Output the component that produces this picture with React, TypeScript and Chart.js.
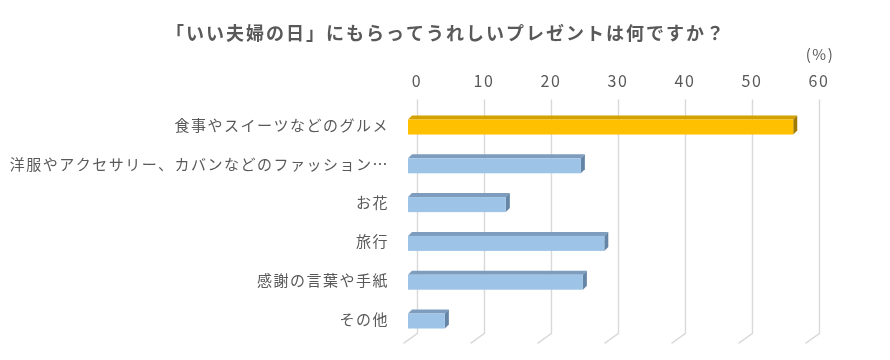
import React, { useEffect, useRef } from "react";
import { Chart, registerables } from "chart.js";

Chart.register(...registerables);

const TITLE = "「いい夫婦の日」にもらってうれしいプレゼントは何ですか？";
const UNIT_LABEL = "(%)";
const categories = [
  "食事やスイーツなどのグルメ",
  "洋服やアクセサリー、カバンなどのファッション…",
  "お花",
  "旅行",
  "感謝の言葉や手紙",
  "その他",
];
const values = [57.5, 25.8, 14.6, 29.3, 26.1, 5.5];
const highlighted = [true, false, false, false, false, false];
const xMin = 0;
const xMax = 60;
const xStep = 10;

const FONT = "'Noto Sans CJK JP', 'Noto Sans', sans-serif";
const TEXT = "#595959";
const GRID = "#d9d9d9";
const GOLD = { front: "#FFC000", top: "#D4A200", side: "#A07A00" };
const BLUE = { front: "#9DC3E6", top: "#7E9DBE", side: "#6585A6" };

const letterSpacingPlugin = {
  id: "letterSpacing",
  beforeDraw(chart: any) {
    chart.ctx.letterSpacing = "1.5px";
  },
};

const titlePlugin = {
  id: "centerTitle",
  afterDraw(chart: any) {
    const { ctx } = chart;
    ctx.save();
    ctx.letterSpacing = "2px";
    ctx.font = `bold 18px ${FONT}`;
    ctx.fillStyle = TEXT;
    ctx.textAlign = "center";
    ctx.textBaseline = "middle";
    ctx.fillText(TITLE, chart.width / 2 + 1, 33);
    ctx.restore();
  },
};

const wallGridPlugin = {
  id: "wallGrid",
  beforeDatasetsDraw(chart: any) {
    const { ctx, chartArea, scales } = chart;
    const xs = scales.x;
    ctx.save();
    ctx.strokeStyle = GRID;
    ctx.lineWidth = 1.4;
    xs.ticks.forEach((t: any) => {
      const px = Math.round(xs.getPixelForValue(t.value)) + 0.5;
      ctx.beginPath();
      ctx.moveTo(px, chartArea.top - 6);
      ctx.lineTo(px, chartArea.bottom - 5);
      ctx.lineTo(px - 14, chartArea.bottom + 5);
      ctx.stroke();
    });
    ctx.restore();
  },
};

const bars3dPlugin = {
  id: "bars3d",
  afterDatasetsDraw(chart: any) {
    const { ctx } = chart;
    const meta = chart.getDatasetMeta(0);
    const dx = -9;
    const d = 4;
    ctx.save();
    meta.data.forEach((el: any, i: number) => {
      const { x, y, base, height } = el.getProps(["x", "y", "base", "height"], true);
      const c = highlighted[i] ? GOLD : BLUE;
      const left = base + dx;
      const right = x + dx;
      const top = y - height / 2 + d;
      const bottom = y + height / 2;
      ctx.fillStyle = c.top;
      ctx.beginPath();
      ctx.moveTo(left, top);
      ctx.lineTo(left + d, top - d);
      ctx.lineTo(right + d, top - d);
      ctx.lineTo(right, top);
      ctx.closePath();
      ctx.fill();
      ctx.fillStyle = c.side;
      ctx.beginPath();
      ctx.moveTo(right, top);
      ctx.lineTo(right + d, top - d);
      ctx.lineTo(right + d, bottom - d);
      ctx.lineTo(right, bottom);
      ctx.closePath();
      ctx.fill();
      ctx.fillStyle = c.front;
      ctx.fillRect(left, top, right - left, bottom - top);
    });
    ctx.restore();
  },
};

const unitLabelPlugin = {
  id: "unitLabel",
  afterDraw(chart: any) {
    const { ctx, chartArea, scales } = chart;
    ctx.save();
    ctx.font = `15px ${FONT}`;
    ctx.fillStyle = TEXT;
    ctx.textAlign = "center";
    ctx.textBaseline = "middle";
    ctx.fillText(UNIT_LABEL, scales.x.getPixelForValue(xMax) + 1, chartArea.top - 51);
    ctx.restore();
  },
};

export default function App() {
  const ref = useRef<HTMLCanvasElement>(null);

  useEffect(() => {
    if (!ref.current) return;
    const chart = new Chart(ref.current, {
      type: "bar",
      data: {
        labels: categories,
        datasets: [
          {
            data: values,
            backgroundColor: "rgba(0,0,0,0)",
            borderWidth: 0,
            categoryPercentage: 1,
            barPercentage: 0.49,
          },
        ],
      },
      options: {
        indexAxis: "y",
        animation: false,
        responsive: false,
        devicePixelRatio: 1,
        layout: { padding: { left: 0, right: 71, top: 44.6, bottom: 21.6 } },
        plugins: {
          legend: { display: false },
          tooltip: { enabled: false },
          title: { display: false },
        },
        scales: {
          x: {
            position: "top",
            min: xMin,
            max: xMax,
            ticks: {
              stepSize: xStep,
              color: TEXT,
              font: { family: FONT, size: 16 },
              padding: 15.5,
            },
            grid: { display: false, drawTicks: false },
            border: { display: false },
            afterFit(scale: any) {
              scale.height = 61;
              scale.paddingLeft = 0;
              scale.paddingRight = 0;
            },
          },
          y: {
            ticks: {
              color: TEXT,
              font: { family: FONT, size: 15 },
              padding: 28,
              autoSkip: false,
            },
            grid: { display: false, drawTicks: false },
            border: { display: false },
            afterFit(scale: any) {
              scale.width = 417;
              scale.paddingTop = 0;
              scale.paddingBottom = 0;
            },
          },
        },
      },
      plugins: [letterSpacingPlugin, wallGridPlugin, bars3dPlugin, unitLabelPlugin, titlePlugin],
    } as any);
    return () => chart.destroy();
  }, []);

  return (
    <div style={{ position: "fixed", left: 0, top: 0, width: 890, height: 360, background: "#fff" }}>
      <canvas ref={ref} width={890} height={360} style={{ display: "block" }} />
    </div>
  );
}
